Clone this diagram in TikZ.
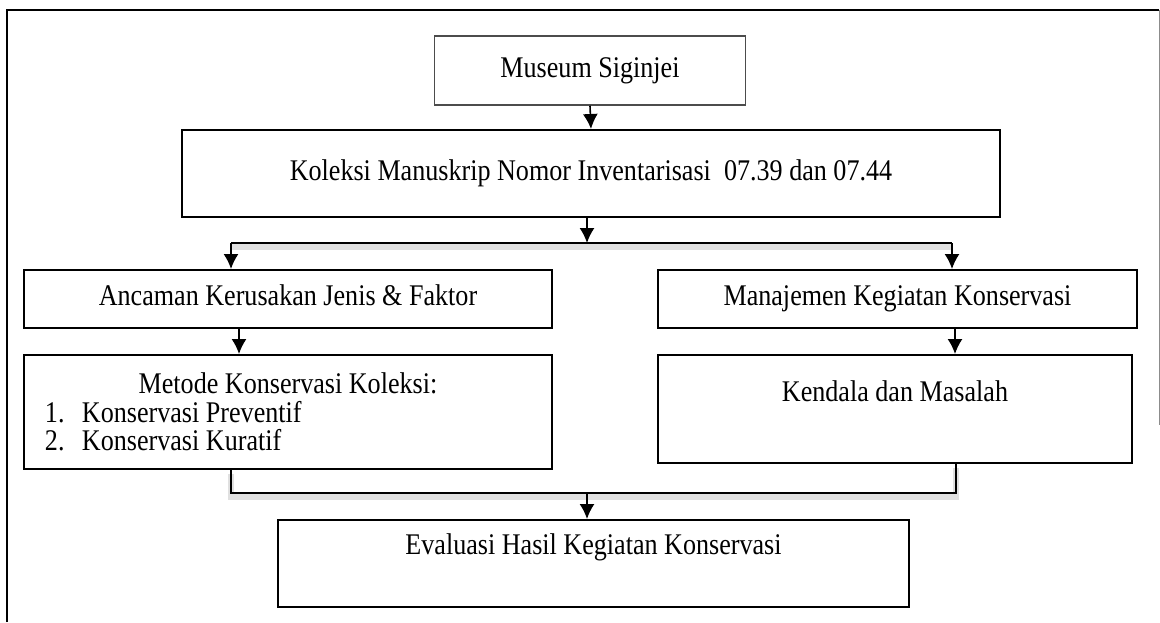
\documentclass[tikz,border=0pt]{standalone}
\usepackage{fontspec}
\setmainfont{Liberation Serif}[FakeStretch=0.87]
\usetikzlibrary{arrows.meta}
\tikzset{>={Latex[length=15pt,width=15pt]}}
\tikzstyle{box} = [rectangle, draw=black, line width=2pt, inner sep=0pt, font=\fontsize{30}{28.5}\selectfont]
\tikzstyle{oneline} = [text height=20pt, text depth=7pt]
\tikzstyle{link} = [->, draw=black, line width=1.6pt]
\tikzstyle{branch} = [-, draw=black, line width=1.6pt, preaction={draw=black!12, line width=6pt, transform canvas={yshift=-4pt}}]

\begin{document}
\begin{tikzpicture}[x=1pt, y=-1pt]
\useasboundingbox (0,0) rectangle (1160,622);
% frame
\draw [line width=2.5pt] (7,622) -- (7,10) -- (1159,10);
\draw [black!45, line width=1pt] (1159,10) -- (1159,425);

\node [box, oneline, draw=black!70, line width=1.5pt, minimum width=311pt, minimum height=69pt] (museum) at (590, 70.5) {Museum Siginjei};
\node [box, oneline, minimum width=818pt, minimum height=87pt] (koleksi) at (591, 173.5) {Koleksi Manuskrip Nomor Inventarisasi\ \ 07.39 dan 07.44};
\node [box, oneline, minimum width=528pt, minimum height=58pt] (ancaman) at (288, 299) {Ancaman Kerusakan Jenis \& Faktor};
\node [box, align=center, minimum width=528pt, minimum height=114pt] (metode) at (288, 412) {Metode Konservasi Koleksi:\\\makebox[486pt][l]{\makebox[37pt][l]{1.}Konservasi Preventif}\\\makebox[486pt][l]{\makebox[37pt][l]{2.}Konservasi Kuratif}};
\node [box, oneline, minimum width=479pt, minimum height=58pt] (manajemen) at (897.5, 299) {Manajemen Kegiatan Konservasi};
\node [box, text height=20pt, text depth=35pt, minimum width=474pt, minimum height=108pt] (kendala) at (895, 409) {Kendala dan Masalah};
\node [box, text height=20pt, text depth=38pt, minimum width=631pt, minimum height=87pt] (evaluasi) at (593.5, 563.5) {Evaluasi Hasil Kegiatan Konservasi};

\coordinate (split) at (587, 243);
\coordinate (left) at (231, 243);
\coordinate (right) at (952, 243);
\coordinate (colA) at (239, 0);
\coordinate (colB) at (955, 0);
\coordinate (join) at (587, 493);
\coordinate (joinL) at (231, 493);
\coordinate (joinR) at (956, 493);

\draw [link] (museum.south) -- (koleksi.north);
\draw [link] (koleksi.south -| split) -- (split);
\draw [branch] (left) -- (right);
\draw [link] (left) -- (left |- ancaman.north);
\draw [link] (right) -- (right |- manajemen.north);
\draw [link] (ancaman.south -| colA) -- (metode.north -| colA);
\draw [link] (manajemen.south -| colB) -- (kendala.north -| colB);
\draw [branch] (metode.south -| joinL) -- (joinL) -- (joinR) -- (kendala.south -| joinR);
\draw [link] (join) -- (evaluasi.north -| join);
\end{tikzpicture}
\end{document}
